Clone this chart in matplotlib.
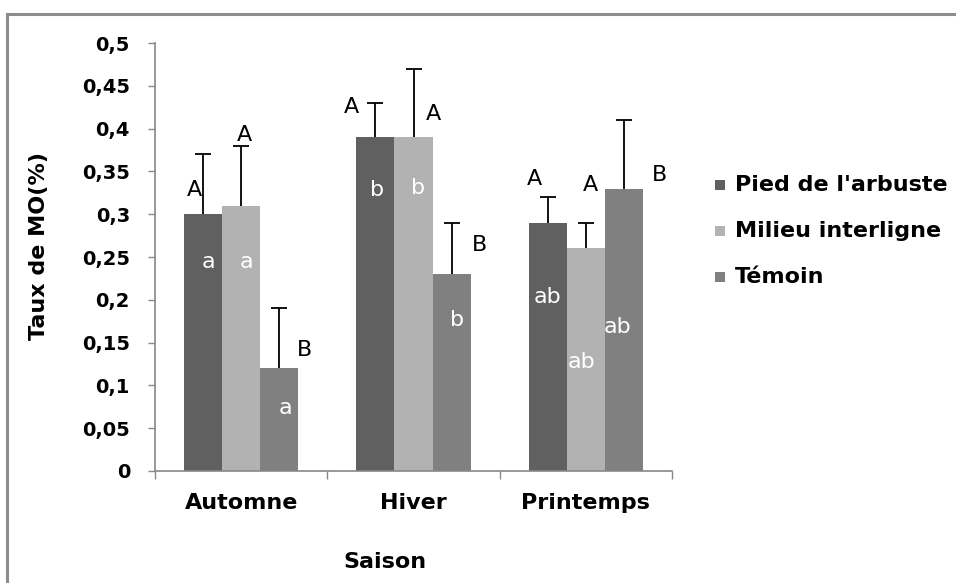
import numpy as np
import matplotlib
matplotlib.use("Agg")
import matplotlib.pyplot as plt
from matplotlib.patches import Rectangle
from matplotlib.lines import Line2D

plt.rcParams['font.family'] = ['DejaVu Sans']

seasons = ["Automne", "Hiver", "Printemps"]
series = ["Pied de l'arbuste", "Milieu interligne", "Témoin"]
pied = [0.30, 0.39, 0.29]
milieu = [0.31, 0.39, 0.26]
temoin = [0.12, 0.23, 0.33]
err_pied = [0.07, 0.04, 0.03]
err_milieu = [0.07, 0.08, 0.03]
err_temoin = [0.07, 0.06, 0.08]
upper_letters = [["A", "A", "A"], ["A", "A", "A"], ["B", "B", "B"]]
lower_letters = [["a", "b", "ab"], ["a", "b", "ab"], ["a", "b", "ab"]]
colors = ["#606060", "#b2b2b2", "#808080"]

# label placements (visual centre in data y, x offset in px from bar centre)
upper_y = [[0.331, 0.428, 0.343], [0.395, 0.419, 0.336], [0.144, 0.266, 0.348]]
upper_dx = [[-9, -24, -13], [3, 20, 5], [25, 28, 36]]
lower_y = [[0.244, 0.331, 0.206], [0.244, 0.333, 0.130], [0.074, 0.179, 0.171]]
lower_dx = [[5, 2, 0], [5, 5, -4], [6, 5, -6]]

W, H = 956, 583
fig = plt.figure(figsize=(W / 100, H / 100), dpi=100)
ax = fig.add_axes([155 / W, 1 - 471 / H, (672 - 155) / W, (471 - 43) / H])

values = [pied, milieu, temoin]
errs = [err_pied, err_milieu, err_temoin]
x = np.arange(len(seasons))
bw = 38 / 172
px = 1 / 172
pt2px = 100 / 72
yscale = 0.5 / 428  # data units per pixel
for i, (vals, e, c) in enumerate(zip(values, errs, colors)):
    xs = x + (i - 1) * bw
    ax.bar(xs, vals, width=bw, color=c, edgecolor='none', label=series[i], zorder=2)
    ax.errorbar(xs, vals, yerr=e, fmt='none', ecolor='black',
                elinewidth=1.3, capsize=6, capthick=1.3, zorder=1)
    for j in range(len(seasons)):
        # baseline = visual centre - half cap height
        ax.text(xs[j] + upper_dx[i][j] * px,
                upper_y[i][j] - 0.5 * 0.729 * 16 * pt2px * yscale,
                upper_letters[i][j], ha='center', va='baseline', fontsize=16, color='black')
        lh = 0.76 if 'b' in lower_letters[i][j] else 0.547
        ax.text(xs[j] + lower_dx[i][j] * px,
                lower_y[i][j] - 0.5 * lh * 16 * pt2px * yscale,
                lower_letters[i][j], ha='center', va='baseline', fontsize=16, color='white')

ax.set_xlim(-0.5, 2.5)
ax.set_ylim(0, 0.5)
yt = np.round(np.arange(0, 0.501, 0.05), 2)
ax.set_yticks(yt)
ax.set_yticklabels([("%g" % v).replace('.', ',') for v in yt], fontsize=14, fontweight='bold')
ax.set_xticks(x)
ax.set_xticklabels(seasons, fontsize=16, fontweight='bold')
ax.tick_params(axis='x', length=0, pad=16)
ax.set_xticks([-0.5, 0.5, 1.5, 2.5], minor=True)
ax.tick_params(axis='x', which='minor', length=6, width=1, color='#888888', direction='out')
ax.tick_params(axis='y', length=5, width=1, color='#888888', direction='out', pad=13)
for s in ['top', 'right']:
    ax.spines[s].set_visible(False)
for s in ['left', 'bottom']:
    ax.spines[s].set_color('#888888')
    ax.spines[s].set_linewidth(1.2)

fig.text(385 / W, 1 - 562 / H, "Saison", ha='center', va='center', fontsize=16, fontweight='bold')
fig.text(39 / W, 1 - 246 / H, "Taux de MO(%)", ha='center', va='center', rotation=90,
         fontsize=16, fontweight='bold')

# legend
leg_y = [185, 231, 277]
for c, name, yy in zip(colors, series, leg_y):
    fig.patches.append(Rectangle((715 / W, 1 - (yy + 5) / H), 10 / W, 10 / H,
                                 transform=fig.transFigure, facecolor=c, edgecolor='none'))
    fig.text(735 / W, 1 - yy / H, name, ha='left', va='center', fontsize=16, fontweight='bold')

# outer chart frame (cropped)
fig.add_artist(Line2D([7 / W, 7 / W], [0, 1 - 14 / H], transform=fig.transFigure,
                      color='#8c8c8c', lw=2.2))
fig.add_artist(Line2D([7 / W, 1], [1 - 14 / H, 1 - 14 / H], transform=fig.transFigure,
                      color='#8c8c8c', lw=2.2))

fig.savefig("out.png", dpi=100)
